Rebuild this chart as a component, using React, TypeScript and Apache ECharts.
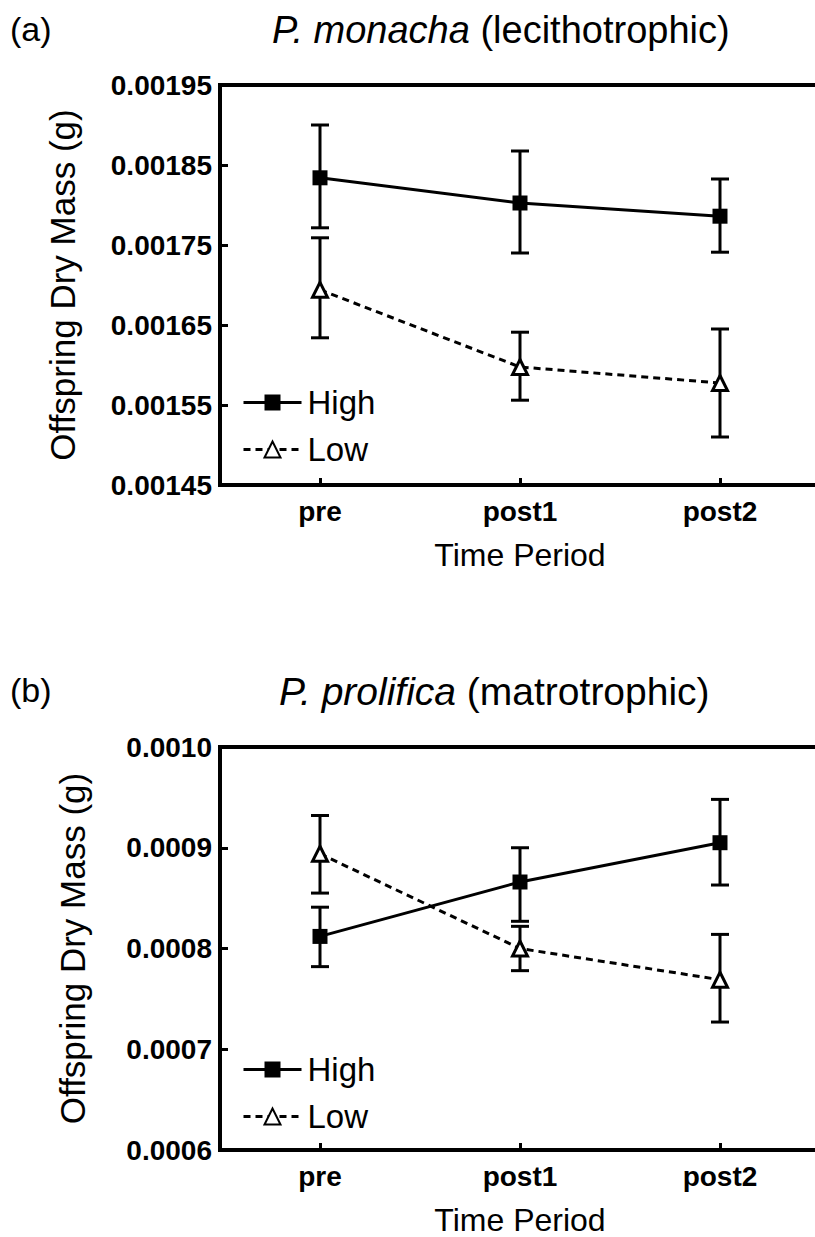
import React, { useEffect, useRef } from "react";
import * as echarts from "echarts";

const categories = ["pre", "post1", "post2"];

// Panel (a) P. monacha
const topHigh = [0.001834, 0.0018025, 0.001786];
const topHighErr = [[0.0017715, 0.0019], [0.00174, 0.0018675], [0.001741, 0.0018325]];
const topLow = [0.001694, 0.0015975, 0.0015775];
const topLowErr = [[0.001634, 0.001759], [0.001556, 0.001641], [0.00151, 0.001645]];
const topTicks = { min: 0.00145, max: 0.00195, interval: 0.0001, digits: 5 };

// Panel (b) P. prolifica
const botHigh = [0.000812, 0.000866, 0.000905];
const botHighErr = [[0.000782, 0.000841], [0.000827, 0.0009], [0.000863, 0.000948]];
const botLow = [0.000894, 0.0008, 0.000769];
const botLowErr = [[0.000855, 0.000932], [0.000778, 0.000822], [0.000727, 0.000814]];
const botTicks = { min: 0.0006, max: 0.001, interval: 0.0001, digits: 4 };

const FONT = "'Liberation Sans', Arial, Helvetica, sans-serif";

function errSeries(err: number[][], xIdx: number, yIdx: number) {
  return {
    type: "custom",
    xAxisIndex: xIdx,
    yAxisIndex: yIdx,
    z: 2,
    silent: true,
    encode: { x: 0, y: [1, 2] },
    data: categories.map((c, i) => [i, err[i][0], err[i][1]]),
    renderItem: (params: any, api: any) => {
      const x = api.value(0);
      const pLo = api.coord([x, api.value(1)]);
      const pHi = api.coord([x, api.value(2)]);
      const hw = 9;
      const style = { stroke: "#000", lineWidth: 3 };
      return {
        type: "group",
        children: [
          { type: "line", shape: { x1: pLo[0], y1: pLo[1], x2: pHi[0], y2: pHi[1] }, style },
          { type: "line", shape: { x1: pLo[0] - hw, y1: pLo[1], x2: pLo[0] + hw, y2: pLo[1] }, style },
          { type: "line", shape: { x1: pHi[0] - hw, y1: pHi[1], x2: pHi[0] + hw, y2: pHi[1] }, style },
        ],
      };
    },
  };
}

function highSeries(data: number[], xIdx: number, yIdx: number) {
  return {
    name: "High",
    type: "line",
    xAxisIndex: xIdx,
    yAxisIndex: yIdx,
    z: 4,
    data,
    symbol: "rect",
    symbolSize: 15,
    lineStyle: { color: "#000", width: 3, type: "solid" },
    itemStyle: { color: "#000", borderColor: "#000", borderWidth: 0 },
  };
}

function lowSeries(data: number[], xIdx: number, yIdx: number) {
  return {
    name: "Low",
    type: "line",
    xAxisIndex: xIdx,
    yAxisIndex: yIdx,
    z: 3,
    data,
    symbol: "triangle",
    symbolSize: 15,
    lineStyle: { color: "#000", width: 3, type: [7, 5] },
    itemStyle: { color: "#fff", borderColor: "#000", borderWidth: 3 },
  };
}

function xAxisFor(gridIndex: number) {
  return {
    type: "category",
    gridIndex,
    data: categories,
    boundaryGap: true,
    name: "Time Period",
    nameLocation: "middle",
    nameGap: 54,
    nameTextStyle: { fontFamily: FONT, fontSize: 32, color: "#000" },
    axisLine: { show: false },
    axisTick: { show: true, inside: true, alignWithLabel: true, length: 7, lineStyle: { color: "#000", width: 3 } },
    axisLabel: { margin: 12, fontFamily: FONT, fontSize: 28, fontWeight: "bold", color: "#000" },
    splitLine: { show: false },
  };
}

function yAxisFor(gridIndex: number, t: any, nameGap: number) {
  return {
    type: "value",
    gridIndex,
    min: t.min,
    max: t.max,
    interval: t.interval,
    name: "Offspring Dry Mass (g)",
    nameLocation: "middle",
    nameRotate: 90,
    nameGap,
    nameTextStyle: { fontFamily: FONT, fontSize: 35, color: "#000" },
    axisLine: { show: false },
    axisTick: { show: true, inside: true, length: 8, lineStyle: { color: "#000", width: 3 } },
    axisLabel: {
      margin: 8,
      fontFamily: FONT,
      fontSize: 28,
      fontWeight: "bold",
      color: "#000",
      formatter: (v: number) => v.toFixed(t.digits),
    },
    splitLine: { show: false },
  };
}

function legendFor(top: number) {
  return {
    orient: "vertical",
    left: 237,
    top,
    selectedMode: false,
    itemWidth: 58,
    itemHeight: 20,
    itemGap: 14,
    data: ["High", "Low"],
    lineStyle: { width: 3 },
    textStyle: { fontFamily: FONT, fontSize: 33, color: "#000", padding: [0, 0, 0, 1] },
  };
}

export default function App() {
  const ref = useRef<HTMLDivElement>(null);
  useEffect(() => {
    if (!ref.current) return;
    const chart = echarts.init(ref.current, null, { renderer: "svg" });
    const gridStyle = { show: true, borderColor: "#000", borderWidth: 4, backgroundColor: "transparent" };
    chart.setOption({
      animation: false,
      backgroundColor: "#fff",
      grid: [
        { left: 220, top: 85, width: 600, height: 400, ...gridStyle },
        { left: 220, top: 747, width: 600, height: 406, ...gridStyle },
      ],
      xAxis: [xAxisFor(0), xAxisFor(1)],
      yAxis: [yAxisFor(0, topTicks, 140), yAxisFor(1, botTicks, 130)],
      legend: [legendFor(381), legendFor(1048)],
      graphic: [
        { type: "text", left: 10, top: 12, style: { text: "(a)", fontFamily: FONT, fontSize: 34, fill: "#000" } },
        {
          type: "text",
          left: 272,
          top: 11,
          style: {
            text: "{i|P. monacha} (lecithotrophic)",
            fontFamily: FONT,
            fontSize: 38,
            fill: "#000",
            rich: { i: { fontStyle: "italic", fontFamily: FONT, fontSize: 38, fill: "#000" } },
          },
        },
        { type: "text", left: 10, top: 673, style: { text: "(b)", fontFamily: FONT, fontSize: 34, fill: "#000" } },
        {
          type: "text",
          left: 279,
          top: 672,
          style: {
            text: "{i|P. prolifica} (matrotrophic)",
            fontFamily: FONT,
            fontSize: 39,
            fill: "#000",
            rich: { i: { fontStyle: "italic", fontFamily: FONT, fontSize: 39, fill: "#000" } },
          },
        },
      ],
      series: [
        errSeries(topHighErr, 0, 0),
        errSeries(topLowErr, 0, 0),
        highSeries(topHigh, 0, 0),
        lowSeries(topLow, 0, 0),
        errSeries(botHighErr, 1, 1),
        errSeries(botLowErr, 1, 1),
        highSeries(botHigh, 1, 1),
        lowSeries(botLow, 1, 1),
      ],
    });
    return () => chart.dispose();
  }, []);
  return (
    <div style={{ position: "absolute", left: 0, top: 0, width: 815, height: 1237, overflow: "hidden", background: "#fff" }}>
      <div ref={ref} style={{ width: 820, height: 1237 }} />
    </div>
  );
}
